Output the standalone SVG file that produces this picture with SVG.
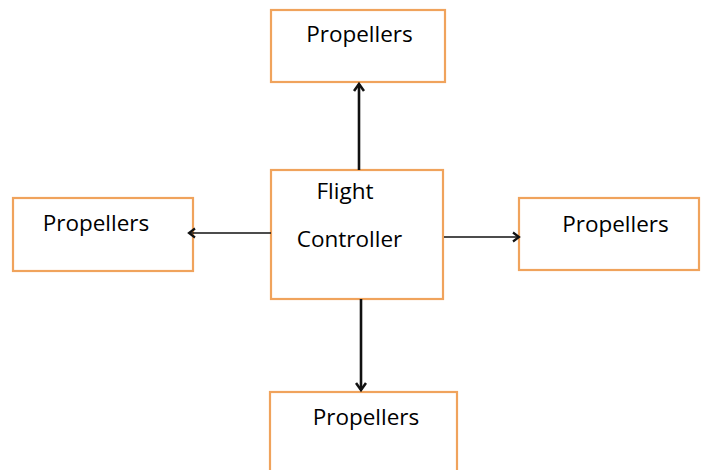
<svg xmlns="http://www.w3.org/2000/svg" width="707" height="470" viewBox="0 0 707 470">
  <style>
    .box { fill: #ffffff; stroke: #f0a35c; stroke-width: 2.2; }
    .lbl { font-family: "Open Sans", "Liberation Sans", sans-serif; font-size: 22.5px; fill: #000000; }
    .wire { stroke: #111111; fill: none; }
    .thick { stroke-width: 2.6; }
    .thin { stroke-width: 1.7; }
  </style>
  <defs>
    <marker id="head" viewBox="-10 -6 12 12" refX="0" refY="0" markerWidth="12" markerHeight="12" markerUnits="userSpaceOnUse" orient="auto">
      <path d="M-7,-5 L0,0 L-7,5" fill="none" stroke="#111111" stroke-width="2.6"/>
    </marker>
    <marker id="headThin" viewBox="-10 -6 12 12" refX="0" refY="0" markerWidth="12" markerHeight="12" markerUnits="userSpaceOnUse" orient="auto">
      <path d="M-6,-4.5 L0,0 L-6,4.5" fill="none" stroke="#111111" stroke-width="2.2"/>
    </marker>
  </defs>

  <rect width="707" height="470" fill="#ffffff"/>

  <g id="controller">
    <rect class="box" x="271" y="170" width="172" height="129"/>
    <text class="lbl" x="345" y="199" text-anchor="middle">Flight</text>
    <text class="lbl" x="349.5" y="247" text-anchor="middle">Controller</text>
  </g>

  <g id="propellers-top">
    <rect class="box" x="271" y="10" width="174" height="72"/>
    <text class="lbl" x="359.5" y="42" text-anchor="middle">Propellers</text>
  </g>

  <g id="propellers-left">
    <rect class="box" x="13" y="198" width="180" height="73"/>
    <text class="lbl" x="96" y="231" text-anchor="middle">Propellers</text>
  </g>

  <g id="propellers-right">
    <rect class="box" x="519" y="198" width="180" height="72"/>
    <text class="lbl" x="615.5" y="232" text-anchor="middle">Propellers</text>
  </g>

  <g id="propellers-bottom">
    <rect class="box" x="270" y="392" width="187" height="82"/>
    <text class="lbl" x="366" y="425" text-anchor="middle">Propellers</text>
  </g>

  <!-- arrows are drawn last so their heads sit over the box edges -->
  <g id="connectors">
    <line class="wire thick" x1="359" y1="170" x2="359" y2="84" marker-end="url(#head)"/>
    <line class="wire thick" x1="361" y1="299" x2="361" y2="390" marker-end="url(#head)"/>
    <line class="wire thin" x1="271" y1="233" x2="189" y2="233" marker-end="url(#headThin)"/>
    <line class="wire thin" x1="444" y1="237" x2="519" y2="237" marker-end="url(#headThin)"/>
  </g>
</svg>
